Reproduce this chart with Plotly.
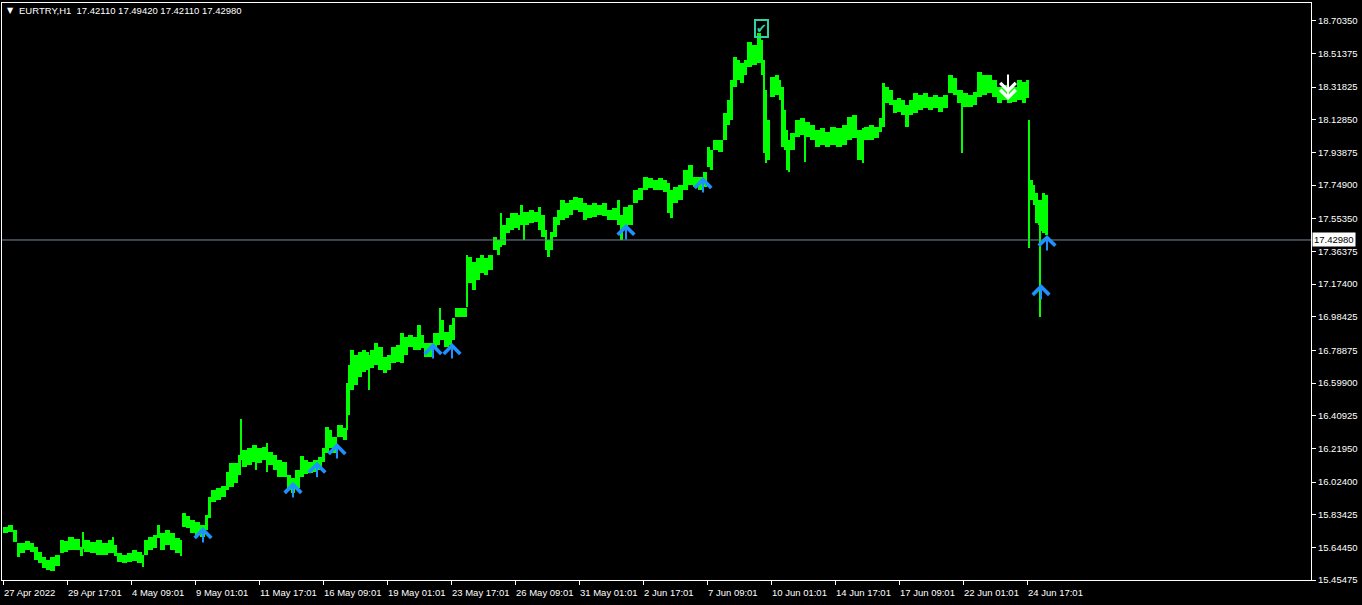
import plotly.graph_objects as go

# ---- price data (H1 bars, grouped into short runs: start hour index, run high, run low) ----
hour_start = [0, 5, 10, 14, 17, 22, 27, 31, 35, 39, 43, 47, 52, 57, 61, 65, 71, 77, 80, 81,
              87, 93, 99, 105, 110, 111, 114, 119, 124, 129, 134, 139, 141, 145, 150, 154, 157, 162, 167, 172,
              177, 179, 183, 187, 192, 197, 202, 205, 208, 213, 218, 223, 226, 231, 235, 238, 239, 244, 249, 253,
              254, 259, 264, 265, 270, 274, 279, 284, 288, 292, 297, 301, 305, 310, 315, 319, 322, 326, 329, 334,
              340, 344, 345, 347, 351, 355, 359, 363, 366, 367, 371, 375, 380, 384, 388, 393, 397, 401, 405, 410,
              414, 418, 421, 430, 434, 437, 438, 441, 446, 449, 452, 464, 465, 469, 473, 477, 481, 485, 490, 494,
              497, 499, 503, 507, 511, 515, 517, 520, 522, 526, 531, 535, 538, 542, 544, 547, 550, 554, 557, 562,
              566, 570, 575, 580, 584, 589, 594, 599, 604, 609, 614, 617, 620, 625, 630, 635, 640, 645, 650, 655,
              660, 664, 667, 670, 675, 680, 685, 690, 695, 700, 704, 707, 710, 715, 720, 724, 727, 730, 734, 737,
              741, 744, 749, 754, 758, 760, 762, 764, 767, 772, 776, 778, 781, 783, 785, 787, 792, 797, 802, 803,
              807, 812, 817, 822, 827, 833, 839, 844, 849, 854, 860, 861, 866, 871, 876, 879, 882, 886, 890, 894,
              898, 902, 906, 910, 915, 920, 925, 930, 935, 940, 945, 950, 954, 959, 960, 965, 970, 974, 979, 984,
              989, 994, 999, 1004, 1009, 1014, 1019, 1023, 1026, 1027, 1030, 1032, 1035, 1037, 1038, 1039, 1042]
last_hour = 1045

high = [15.762, 15.774, 15.745, 15.669, 15.669, 15.681, 15.669, 15.646, 15.617, 15.588, 15.571, 15.588, 15.600, 15.687, 15.681, 15.704, 15.693, 15.646, 15.733, 15.687,
        15.675, 15.687, 15.669, 15.687, 15.704, 15.658, 15.611, 15.600, 15.611, 15.629, 15.617, 15.600, 15.687, 15.704, 15.716, 15.774, 15.727, 15.745, 15.727, 15.698,
        15.687, 15.844, 15.826, 15.803, 15.792, 15.774, 15.832, 15.937, 15.977, 15.989, 16.000, 16.082, 16.134, 16.134, 16.181, 16.390, 16.210, 16.221, 16.239, 16.239,
        16.221, 16.227, 16.250, 16.198, 16.181, 16.152, 16.140, 16.064, 16.047, 16.094, 16.175, 16.152, 16.140, 16.152, 16.169, 16.221, 16.343, 16.326, 16.285, 16.355,
        16.337, 16.599, 16.703, 16.790, 16.761, 16.779, 16.790, 16.779, 16.761, 16.790, 16.831, 16.808, 16.750, 16.761, 16.808, 16.820, 16.889, 16.866, 16.878, 16.866,
        16.936, 16.878, 16.831, 16.889, 16.889, 17.034, 16.965, 16.895, 16.936, 16.976, 17.034, 17.342, 17.331, 17.302, 17.325, 17.342, 17.325, 17.342, 17.447, 17.429,
        17.586, 17.517, 17.557, 17.586, 17.586, 17.575, 17.633, 17.592, 17.592, 17.604, 17.592, 17.621, 17.575, 17.487, 17.429, 17.476, 17.563, 17.604, 17.662, 17.644,
        17.662, 17.679, 17.674, 17.644, 17.633, 17.644, 17.633, 17.644, 17.604, 17.615, 17.662, 17.575, 17.621, 17.633, 17.720, 17.731, 17.796, 17.790, 17.778, 17.790,
        17.778, 17.761, 17.720, 17.737, 17.749, 17.836, 17.865, 17.796, 17.796, 17.824, 17.970, 17.952, 18.010, 18.010, 18.167, 18.243, 18.359, 18.493, 18.475, 18.458,
        18.475, 18.580, 18.562, 18.632, 18.591, 18.475, 18.301, 18.127, 18.376, 18.388, 18.359, 18.318, 18.185, 18.069, 18.010, 18.051, 18.127, 18.138, 18.115, 18.115,
        18.098, 18.069, 18.080, 18.057, 18.086, 18.080, 18.098, 18.144, 18.156, 18.069, 18.080, 18.086, 18.098, 18.086, 18.138, 18.342, 18.318, 18.301, 18.243, 18.254,
        18.243, 18.214, 18.243, 18.283, 18.272, 18.283, 18.260, 18.272, 18.260, 18.272, 18.388, 18.371, 18.301, 18.301, 18.283, 18.272, 18.289, 18.405, 18.388, 18.388,
        18.359, 18.318, 18.330, 18.312, 18.318, 18.359, 18.347, 18.359, 18.127, 17.778, 17.749, 17.703, 17.662, 17.546, 17.662, 17.703, 17.691]

low = [15.727, 15.733, 15.675, 15.588, 15.611, 15.629, 15.617, 15.571, 15.553, 15.524, 15.513, 15.507, 15.536, 15.611, 15.617, 15.629, 15.629, 15.594, 15.635, 15.617,
       15.611, 15.600, 15.600, 15.611, 15.611, 15.594, 15.559, 15.553, 15.559, 15.565, 15.553, 15.530, 15.600, 15.629, 15.640, 15.698, 15.629, 15.658, 15.629, 15.611,
       15.594, 15.762, 15.757, 15.727, 15.716, 15.704, 15.745, 15.815, 15.908, 15.919, 15.937, 15.977, 15.995, 16.018, 16.064, 16.152, 16.111, 16.123, 16.140, 16.094,
       16.134, 16.152, 16.082, 16.123, 16.094, 16.053, 16.053, 15.977, 15.960, 15.989, 16.053, 16.070, 16.076, 16.082, 16.094, 16.140, 16.192, 16.221, 16.192, 16.285,
       16.268, 16.326, 16.413, 16.558, 16.587, 16.634, 16.663, 16.674, 16.558, 16.686, 16.703, 16.674, 16.657, 16.674, 16.715, 16.721, 16.715, 16.761, 16.808, 16.790,
       16.790, 16.802, 16.750, 16.808, 16.820, 16.849, 16.849, 16.808, 16.820, 16.849, 16.982, 17.040, 17.180, 17.139, 17.197, 17.238, 17.226, 17.255, 17.371, 17.342,
       17.389, 17.400, 17.470, 17.487, 17.499, 17.487, 17.517, 17.429, 17.517, 17.528, 17.534, 17.487, 17.447, 17.371, 17.331, 17.371, 17.447, 17.517, 17.546, 17.557,
       17.575, 17.604, 17.592, 17.546, 17.557, 17.563, 17.575, 17.569, 17.546, 17.546, 17.517, 17.429, 17.505, 17.517, 17.644, 17.662, 17.720, 17.731, 17.720, 17.720,
       17.708, 17.586, 17.557, 17.644, 17.662, 17.720, 17.749, 17.737, 17.720, 17.737, 17.854, 17.836, 17.952, 17.941, 18.010, 18.098, 18.127, 18.318, 18.359, 18.341,
       18.388, 18.435, 18.446, 18.458, 18.388, 17.935, 17.877, 17.894, 18.260, 18.272, 18.243, 17.970, 17.952, 17.836, 17.824, 17.952, 18.028, 18.040, 17.883, 18.028,
       18.010, 17.970, 17.981, 17.970, 17.981, 17.970, 17.981, 18.010, 18.022, 17.894, 17.877, 18.010, 18.010, 18.022, 18.057, 18.086, 18.225, 18.214, 18.167, 18.173,
       18.156, 18.086, 18.156, 18.167, 18.185, 18.196, 18.185, 18.196, 18.173, 18.196, 18.283, 18.272, 18.225, 17.935, 18.202, 18.202, 18.214, 18.260, 18.272, 18.283,
       18.260, 18.225, 18.243, 18.225, 18.231, 18.243, 18.225, 18.254, 17.383, 17.662, 17.633, 17.528, 17.517, 16.982, 17.480, 17.470, 17.458]

# ---- signals ----
buy_hour = [200, 290, 314, 334, 430, 449, 623, 700, 1044, 1038]
buy_price = [15.762, 16.024, 16.142, 16.250, 16.831, 16.831, 17.523, 17.795, 17.459, 17.174]
sell_hour = [1005, 1005]
sell_price = [18.243, 18.283]
check_hour = 758
check_price = 18.661

current_price = 17.42980
header = "EURTRY,H1  17.42110 17.49420 17.42110 17.42980"

x_tick_labels = ["27 Apr 2022", "29 Apr 17:01", "4 May 09:01", "9 May 01:01", "11 May 17:01",
                 "16 May 09:01", "19 May 01:01", "23 May 17:01", "26 May 09:01", "31 May 01:01",
                 "2 Jun 17:01", "7 Jun 09:01", "10 Jun 01:01", "14 Jun 17:01", "17 Jun 09:01",
                 "22 Jun 01:01", "24 Jun 17:01"]
label_step_hours = 64
y_tick_values = [18.70350, 18.51375, 18.31825, 18.12850, 17.93875, 17.74900, 17.55350, 17.36375,
                 17.17400, 16.98425, 16.78875, 16.59900, 16.40925, 16.21950, 16.02400, 15.83425,
                 15.64450, 15.45475]

# ---- build ----
ends = hour_start[1:] + [last_hour]
widths = [e - s for s, e in zip(hour_start, ends)]
centers = [s + w / 2 - 0.5 for s, w in zip(hour_start, widths)]
spans = [h - l for h, l in zip(high, low)]

FONT = "Liberation Sans"
fig = go.Figure()
fig.add_trace(go.Bar(x=centers, y=spans, base=low, width=widths,
                     marker=dict(color="#00ff00", line=dict(width=0)),
                     hoverinfo="skip", showlegend=False))

fig.add_shape(type="line", xref="paper", x0=0, x1=1, yref="y", y0=current_price, y1=current_price,
              line=dict(color="#778899", width=1))

annotations = []
for h, p in zip(buy_hour, buy_price):
    annotations.append(dict(x=h, y=p, xref="x", yref="y", text="", showarrow=True,
                            ax=0, ay=17, arrowhead=4, arrowsize=1.6, arrowwidth=2,
                            arrowcolor="#1e90ff", standoff=0))
for h, p in zip(sell_hour, sell_price):
    annotations.append(dict(x=h, y=p, xref="x", yref="y", text="", showarrow=True,
                            ax=0, ay=-20, arrowhead=4, arrowsize=1.5, arrowwidth=2,
                            arrowcolor="#ffffff", standoff=0))
annotations.append(dict(x=check_hour, y=check_price, xref="x", yref="y", text="✔", showarrow=False,
                        font=dict(family="DejaVu Sans", size=13, color="#2fd3a2"),
                        bordercolor="#2fd3a2", borderwidth=2, borderpad=0, bgcolor="rgba(0,0,0,0)"))
annotations.append(dict(x=1, y=current_price, xref="paper", yref="y", text=f"{current_price:.5f}",
                        showarrow=False, xanchor="left", xshift=1, bgcolor="#ffffff",
                        font=dict(family=FONT, size=9.5, color="#000000"), borderpad=1))
annotations.append(dict(x=0, y=1, xref="paper", yref="paper", text="▼", showarrow=False,
                        xanchor="left", yanchor="middle", xshift=3, yshift=-7,
                        font=dict(family="DejaVu Sans", size=8, color="#ffffff")))
annotations.append(dict(x=0, y=1, xref="paper", yref="paper", text=header, showarrow=False,
                        xanchor="left", yanchor="middle", xshift=15, yshift=-7,
                        font=dict(family=FONT, size=9.5, color="#ffffff")))

fig.update_layout(
    width=1362, height=605,
    margin=dict(l=2, r=51, t=3, b=25, autoexpand=False),
    paper_bgcolor="#000000", plot_bgcolor="#000000",
    bargap=0, annotations=annotations,
    xaxis=dict(range=[-1, 1308], showgrid=False, zeroline=False, automargin=False,
               tickmode="array",
               tickvals=[i * label_step_hours for i in range(len(x_tick_labels))],
               ticktext=x_tick_labels, ticks="outside", ticklen=4, tickcolor="#ffffff",
               ticklabelposition="outside right", tickangle=0, ticklabelstandoff=4,
               tickfont=dict(family=FONT, size=9.5, color="#ffffff"),
               showline=True, linecolor="#ffffff", linewidth=1, mirror=True),
    yaxis=dict(range=[15.45475, 18.8063], side="right", showgrid=False, zeroline=False,
               automargin=False, tickmode="array", tickvals=y_tick_values,
               ticktext=[f"{v:.5f}" for v in y_tick_values],
               ticks="outside", ticklen=4, tickcolor="#ffffff",
               tickfont=dict(family=FONT, size=9.5, color="#ffffff"),
               showline=True, linecolor="#ffffff", linewidth=1, mirror=True),
)

fig.write_html("out.html", config={"displayModeBar": False},
               post_script="document.body.style.margin='0px';document.body.style.overflow='hidden';document.body.style.background='#000';")
